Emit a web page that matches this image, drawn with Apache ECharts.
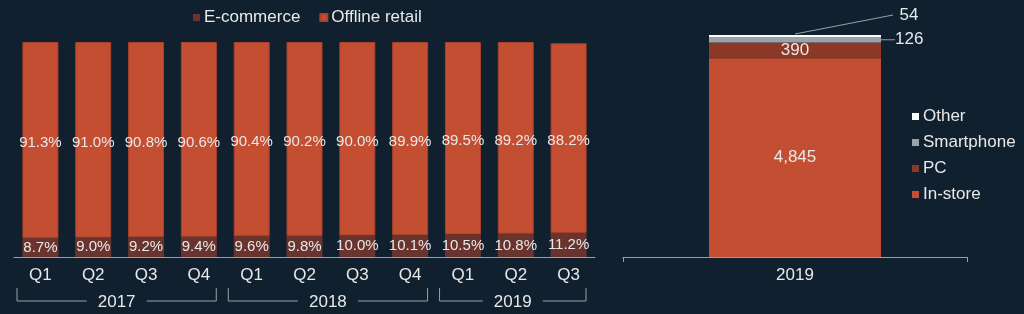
<!DOCTYPE html>
<html>
<head>
<meta charset="utf-8">
<script src="https://cdn.jsdelivr.net/npm/echarts@6/dist/echarts.min.js"></script>
<style>
html,body{margin:0;padding:0;background:#10202e;}
#main{width:1024px;height:314px;}
</style>
</head>
<body>
<div id="main"></div>
<script>
// left chart: share of sales by channel, per quarter
var quarters = ['Q1','Q2','Q3','Q4','Q1','Q2','Q3','Q4','Q1','Q2','Q3'];
var ecommerce = [8.7, 9.0, 9.2, 9.4, 9.6, 9.8, 10.0, 10.1, 10.5, 10.8, 11.2];
var offline = [91.3, 91.0, 90.8, 90.6, 90.4, 90.2, 90.0, 89.9, 89.5, 89.2, 88.2];
var years = ['2017','2018','2019'];
var yearSpans = [4, 4, 3];

// right chart: 2019 totals by channel
var totalCat = ['2019'];
var inStore = [4845];
var pc = [390];
var smartphone = [126];
var other = [54];

var txt = '#e8e8e8';
var axisCol = '#98a0a6';
var font = 'Liberation Sans, Arial, sans-serif';
var total = inStore[0] + pc[0] + smartphone[0] + other[0];

var chart = echarts.init(document.getElementById('main'));

function pct(p){ return p.value.toFixed(1) + '%'; }
function num(p){ return p.value.toLocaleString('en-US'); }

chart.setOption({
    backgroundColor: '#10202e',
    animation: false,
    textStyle: { fontFamily: font },
    legend: [{
        data: ['E-commerce', 'Offline retail'],
        left: 188,
        top: 4,
        itemWidth: 7,
        itemHeight: 7,
        itemGap: 19,
        icon: 'rect',
        textStyle: { color: txt, fontSize: 17, padding: [0, 0, 0, -1] }
    }, {
        data: ['Other', 'Smartphone', 'PC', 'In-store'],
        orient: 'vertical',
        left: 907,
        top: 103,
        itemWidth: 7,
        itemHeight: 7,
        itemGap: 9,
        icon: 'rect',
        textStyle: { color: txt, fontSize: 17, padding: [0, 0, 0, -1] }
    }],
    grid: [
        { left: 14, top: 42, width: 581, height: 215 },
        { left: 623, top: 35, width: 344, height: 222 }
    ],
    xAxis: [{
        type: 'category',
        gridIndex: 0,
        data: quarters,
        axisLine: { lineStyle: { color: axisCol, width: 1 } },
        axisTick: { show: false },
        axisLabel: { color: txt, fontSize: 17, margin: 10 }
    }, {
        type: 'category',
        gridIndex: 1,
        data: totalCat,
        axisLine: { lineStyle: { color: axisCol, width: 1 } },
        axisTick: { show: true, length: 5, lineStyle: { color: axisCol } },
        axisLabel: { color: txt, fontSize: 17, margin: 10 }
    }],
    yAxis: [{
        type: 'value', gridIndex: 0, min: 0, max: 100, show: false
    }, {
        type: 'value', gridIndex: 1, min: 0, max: total, show: false
    }],
    series: [{
        name: 'E-commerce',
        type: 'bar',
        stack: 'share',
        xAxisIndex: 0, yAxisIndex: 0,
        barWidth: 36,
        data: ecommerce,
        itemStyle: { color: '#6a342e' },
        label: { show: true, position: 'inside', color: txt, fontSize: 15, formatter: pct }
    }, {
        name: 'Offline retail',
        type: 'bar',
        stack: 'share',
        xAxisIndex: 0, yAxisIndex: 0,
        barWidth: 36,
        data: offline,
        itemStyle: { color: '#c44e32', borderColor: '#a9412b', borderWidth: 1 },
        label: { show: true, position: 'inside', offset: [0, 3], color: txt, fontSize: 15, formatter: pct }
    }, {
        name: 'In-store',
        type: 'bar',
        stack: 'total',
        xAxisIndex: 1, yAxisIndex: 1,
        barWidth: 172,
        data: inStore,
        itemStyle: { color: '#c44e32' },
        label: { show: true, position: 'inside', color: txt, fontSize: 17, formatter: num }
    }, {
        name: 'PC',
        type: 'bar',
        stack: 'total',
        xAxisIndex: 1, yAxisIndex: 1,
        barWidth: 172,
        data: pc,
        itemStyle: { color: '#8c3827' },
        label: { show: true, position: 'inside', color: txt, fontSize: 17, formatter: num }
    }, {
        name: 'Smartphone',
        type: 'bar',
        stack: 'total',
        xAxisIndex: 1, yAxisIndex: 1,
        barWidth: 172,
        data: smartphone,
        itemStyle: { color: '#9aa3a9' },
        label: { show: true, position: 'right', distance: 14, color: txt, fontSize: 17, formatter: num },
        labelLine: { show: true, lineStyle: { color: axisCol, width: 1 } }
    }, {
        name: 'Other',
        type: 'bar',
        stack: 'total',
        xAxisIndex: 1, yAxisIndex: 1,
        barWidth: 172,
        data: other,
        itemStyle: { color: '#ffffff' },
        label: { show: true, position: 'top', color: txt, fontSize: 17, formatter: num },
        labelLayout: { dx: 114, dy: -6 }
    }]
});

// year brackets under the quarter labels
var c0 = chart.convertToPixel({ xAxisIndex: 0 }, 0);
var c1 = chart.convertToPixel({ xAxisIndex: 0 }, 1);
var band = c1 - c0;
var yLine = 301, yTop = 288;
var ls = { stroke: axisCol, lineWidth: 1, fill: null };
var graphics = [];
var start = 0;
years.forEach(function (yr, i) {
    var x0 = c0 - band / 2 + start * band + 3;
    var x1 = c0 - band / 2 + (start + yearSpans[i]) * band - 9;
    var mid = (x0 + x1) / 2;
    graphics.push({ type: 'polyline', shape: { points: [[x0, yTop], [x0, yLine], [mid - 30, yLine]] }, style: ls, silent: true });
    graphics.push({ type: 'polyline', shape: { points: [[mid + 30, yLine], [x1, yLine], [x1, yTop]] }, style: ls, silent: true });
    graphics.push({ type: 'text', x: mid, y: yLine + 1, style: { text: yr, fill: txt, font: '17px ' + font, align: 'center', verticalAlign: 'middle' }, silent: true });
    start += yearSpans[i];
});

// leader line from the top of the 2019 stack to the "Other" label
var topPt = chart.convertToPixel({ xAxisIndex: 1, yAxisIndex: 1 }, [totalCat[0], total]);
graphics.push({ type: 'line', shape: { x1: topPt[0], y1: topPt[1] - 1, x2: topPt[0] + 98, y2: topPt[1] - 20 }, style: ls, silent: true });
chart.setOption({ graphic: graphics });
</script>
</body>
</html>
